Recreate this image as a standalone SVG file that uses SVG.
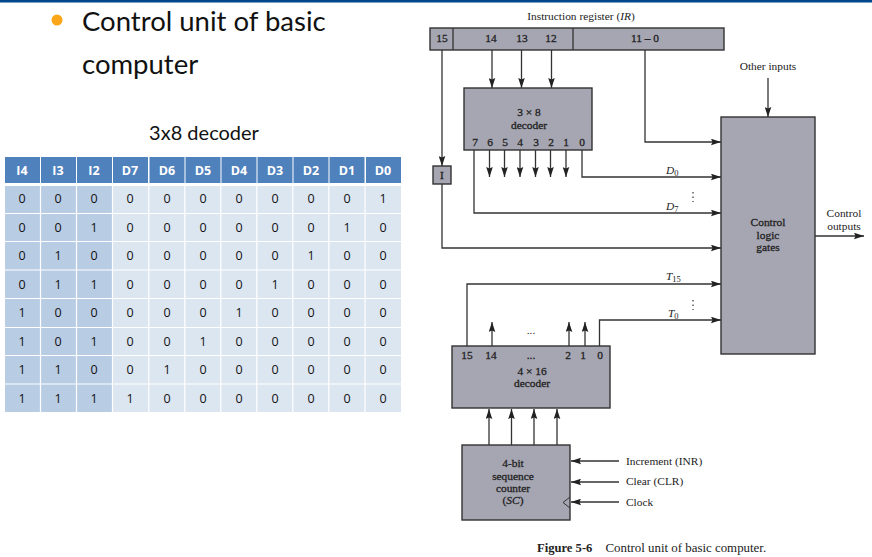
<svg xmlns="http://www.w3.org/2000/svg" width="872" height="557" viewBox="0 0 872 557">
<style>
.hc{fill:#4f81bd}.k{fill:#b8cce4}.l{fill:#dce6f1}
.tt{font-family:"Lato","Open Sans",sans-serif;fill:#111}
.t{font-family:"Open Sans",sans-serif;font-size:12.5px;fill:#111;text-anchor:middle}
.th{font-family:"Open Sans",sans-serif;font-size:12.5px;font-weight:700;fill:#fff;text-anchor:middle}
.s{font-family:"Liberation Serif",serif;font-size:11.4px;fill:#222;text-anchor:middle}
.sl{font-family:"Liberation Serif",serif;font-size:11.4px;fill:#222}
.c{font-family:"Liberation Serif",serif;fill:#222}
.b{font-family:"Liberation Serif",serif;font-size:11.4px;fill:#222;stroke:#222;stroke-width:.3;text-anchor:middle}
.box{fill:#a6a6b2;stroke:#333;stroke-width:1.4}
.w{fill:none;stroke:#333;stroke-width:1.3}
.a{fill:none;stroke:#333;stroke-width:1.3;marker-end:url(#ah)}
</style>
<defs><marker id="ah" markerUnits="userSpaceOnUse" markerWidth="11" markerHeight="7" refX="10" refY="3.500" orient="auto"><path d="M0 0.200L10 3.500L0 6.800L1.500 3.500Z" fill="#222"/></marker></defs>
<rect width="872" height="557" fill="#fff"/>
<rect width="872" height="2.5" fill="#00468b"/>
<g id="title">
<circle cx="57" cy="20" r="5.5" fill="#fca71a"/>
<text class="tt" x="82" y="31" font-size="27.5">Control unit of basic</text>
<text class="tt" x="82" y="74" font-size="27.5">computer</text>
<text class="tt" x="204" y="140" font-size="20" text-anchor="middle">3x8 decoder</text>
</g>
<g id="table">
<g class="hc"><rect x="5" y="157" width="35" height="26"/><rect x="41" y="157" width="35" height="26"/><rect x="77" y="157" width="35" height="26"/><rect x="113" y="157" width="35" height="26"/><rect x="149.500" y="157" width="35" height="26"/><rect x="185.500" y="157" width="35" height="26"/><rect x="221.500" y="157" width="35" height="26"/><rect x="257.500" y="157" width="35" height="26"/><rect x="293.500" y="157" width="35" height="26"/><rect x="329.500" y="157" width="35" height="26"/><rect x="366" y="157" width="35" height="26"/></g>
<g class="k"><rect x="5" y="186" width="107" height="226"/></g>
<g class="l"><rect x="113" y="186" width="288" height="226"/></g>
<g stroke="#fff" stroke-width="1.2"><path d="M40.500 186V412M76.500 186V412M112.500 186V412M148.800 186V412M184.800 186V412M220.800 186V412M256.800 186V412M292.800 186V412M328.800 186V412M365 186V412M5 213.500H401M5 241.500H401M5 270H401M5 298.500H401M5 327.500H401M5 355.500H401M5 384H401"/></g>
<text class="th" x="22" y="175">I4</text><text class="th" x="58" y="175">I3</text><text class="th" x="94" y="175">I2</text><text class="th" x="130" y="175">D7</text><text class="th" x="167" y="175">D6</text><text class="th" x="203" y="175">D5</text><text class="th" x="239" y="175">D4</text><text class="th" x="275" y="175">D3</text><text class="th" x="311" y="175">D2</text><text class="th" x="347" y="175">D1</text><text class="th" x="383" y="175">D0</text>
<text class="t" x="22" y="203">0</text><text class="t" x="58" y="203">0</text><text class="t" x="94" y="203">0</text><text class="t" x="130" y="203">0</text><text class="t" x="167" y="203">0</text><text class="t" x="203" y="203">0</text><text class="t" x="239" y="203">0</text><text class="t" x="275" y="203">0</text><text class="t" x="311" y="203">0</text><text class="t" x="347" y="203">0</text><text class="t" x="383" y="203">1</text>
<text class="t" x="22" y="232">0</text><text class="t" x="58" y="232">0</text><text class="t" x="94" y="232">1</text><text class="t" x="130" y="232">0</text><text class="t" x="167" y="232">0</text><text class="t" x="203" y="232">0</text><text class="t" x="239" y="232">0</text><text class="t" x="275" y="232">0</text><text class="t" x="311" y="232">0</text><text class="t" x="347" y="232">1</text><text class="t" x="383" y="232">0</text>
<text class="t" x="22" y="260">0</text><text class="t" x="58" y="260">1</text><text class="t" x="94" y="260">0</text><text class="t" x="130" y="260">0</text><text class="t" x="167" y="260">0</text><text class="t" x="203" y="260">0</text><text class="t" x="239" y="260">0</text><text class="t" x="275" y="260">0</text><text class="t" x="311" y="260">1</text><text class="t" x="347" y="260">0</text><text class="t" x="383" y="260">0</text>
<text class="t" x="22" y="289">0</text><text class="t" x="58" y="289">1</text><text class="t" x="94" y="289">1</text><text class="t" x="130" y="289">0</text><text class="t" x="167" y="289">0</text><text class="t" x="203" y="289">0</text><text class="t" x="239" y="289">0</text><text class="t" x="275" y="289">1</text><text class="t" x="311" y="289">0</text><text class="t" x="347" y="289">0</text><text class="t" x="383" y="289">0</text>
<text class="t" x="22" y="317">1</text><text class="t" x="58" y="317">0</text><text class="t" x="94" y="317">0</text><text class="t" x="130" y="317">0</text><text class="t" x="167" y="317">0</text><text class="t" x="203" y="317">0</text><text class="t" x="239" y="317">1</text><text class="t" x="275" y="317">0</text><text class="t" x="311" y="317">0</text><text class="t" x="347" y="317">0</text><text class="t" x="383" y="317">0</text>
<text class="t" x="22" y="346">1</text><text class="t" x="58" y="346">0</text><text class="t" x="94" y="346">1</text><text class="t" x="130" y="346">0</text><text class="t" x="167" y="346">0</text><text class="t" x="203" y="346">1</text><text class="t" x="239" y="346">0</text><text class="t" x="275" y="346">0</text><text class="t" x="311" y="346">0</text><text class="t" x="347" y="346">0</text><text class="t" x="383" y="346">0</text>
<text class="t" x="22" y="374">1</text><text class="t" x="58" y="374">1</text><text class="t" x="94" y="374">0</text><text class="t" x="130" y="374">0</text><text class="t" x="167" y="374">1</text><text class="t" x="203" y="374">0</text><text class="t" x="239" y="374">0</text><text class="t" x="275" y="374">0</text><text class="t" x="311" y="374">0</text><text class="t" x="347" y="374">0</text><text class="t" x="383" y="374">0</text>
<text class="t" x="22" y="403">1</text><text class="t" x="58" y="403">1</text><text class="t" x="94" y="403">1</text><text class="t" x="130" y="403">1</text><text class="t" x="167" y="403">0</text><text class="t" x="203" y="403">0</text><text class="t" x="239" y="403">0</text><text class="t" x="275" y="403">0</text><text class="t" x="311" y="403">0</text><text class="t" x="347" y="403">0</text><text class="t" x="383" y="403">0</text>
</g>
<g id="connectors">
<path class="a" d="M492 50V88"/><path class="a" d="M521.500 50V88"/><path class="a" d="M551.500 50V88"/>
<path class="a" d="M442 50V166"/>
<path class="a" d="M442 184V248H721"/>
<path class="a" d="M645 50V142H721"/>
<path class="a" d="M768 78V117"/>
<path class="a" d="M582 150V177H721"/>
<path class="a" d="M474 150V213H721"/>
<path class="a" d="M489.500 150V177"/><path class="a" d="M504.500 150V177"/><path class="a" d="M520 150V177"/><path class="a" d="M535.500 150V177"/><path class="a" d="M550.500 150V177"/><path class="a" d="M566 150V177"/>
<path class="a" d="M467 346V284H721"/>
<path class="a" d="M599.500 346V320H721"/>
<path class="a" d="M492 346V322"/><path class="a" d="M569 346V322"/><path class="a" d="M585 346V322"/>
<path class="a" d="M489 445V409"/><path class="a" d="M511.500 445V409"/><path class="a" d="M534 445V409"/><path class="a" d="M557 445V409"/>
<path class="a" d="M619 461H571"/><path class="a" d="M619 482H571"/><path class="a" d="M619 502H571"/>
<path class="a" d="M815 236H864"/>
<path fill="none" stroke="#333" stroke-width="1.2" stroke-dasharray="1.5 3" d="M693 192V202M693 300V310"/>
</g>
<g id="instruction-register">
<rect class="box" x="430" y="28" width="294" height="22"/>
<path class="w" d="M453 28V50M573 28V50"/>
<text class="s" x="581" y="20">Instruction register (<tspan font-style="italic">IR</tspan>)</text>
<text class="b" x="442" y="42">15</text><text class="b" x="491" y="42">14</text><text class="b" x="522" y="42">13</text><text class="b" x="551" y="42">12</text><text class="b" x="645" y="42">11 – 0</text>
</g>
<g id="decoder-3x8">
<rect class="box" x="464" y="88" width="128" height="62"/>
<text class="b" x="529" y="116">3 × 8</text><text class="b" x="529" y="129">decoder</text>
<text class="b" x="475" y="146">7</text><text class="b" x="490" y="146">6</text><text class="b" x="505" y="146">5</text><text class="b" x="520" y="146">4</text><text class="b" x="536" y="146">3</text><text class="b" x="551" y="146">2</text><text class="b" x="566" y="146">1</text><text class="b" x="582" y="146">0</text>
</g>
<g id="flipflop-i">
<rect class="box" x="433" y="166" width="18" height="18"/>
<text class="b" x="442" y="179">I</text>
</g>
<g id="control-logic">
<rect class="box" x="721" y="117" width="94" height="237"/>
<text class="b" x="768" y="226">Control</text><text class="b" x="768" y="239">logic</text><text class="b" x="768" y="251">gates</text>
</g>
<g id="labels">
<text class="s" x="768" y="70">Other inputs</text>
<text class="s" x="844" y="217">Control</text><text class="s" x="844" y="230">outputs</text>
<text class="sl" x="666" y="174" font-style="italic">D<tspan font-size="8.500" font-style="normal" dy="2">0</tspan></text>
<text class="sl" x="666" y="210" font-style="italic">D<tspan font-size="8.500" font-style="normal" dy="2">7</tspan></text>
<text class="sl" x="666" y="280" font-style="italic">T<tspan font-size="8.500" font-style="normal" dy="2">15</tspan></text>
<text class="sl" x="668" y="317" font-style="italic">T<tspan font-size="8.500" font-style="normal" dy="2">0</tspan></text>
<text class="s" x="531" y="334">...</text>
<text class="sl" x="626" y="465">Increment (INR)</text>
<text class="sl" x="626" y="485">Clear (CLR)</text>
<text class="sl" x="626" y="506">Clock</text>
<text class="c" x="537" y="552" font-size="12.900"><tspan font-weight="700" font-size="12.600">Figure 5-6</tspan><tspan dx="13">Control unit of basic computer.</tspan></text>
</g>
<g id="decoder-4x16">
<rect class="box" x="452" y="346" width="158" height="62"/>
<text class="b" x="467" y="359">15</text><text class="b" x="491" y="359">14</text><text class="b" x="531" y="359">...</text><text class="b" x="568" y="359">2</text><text class="b" x="583" y="359">1</text><text class="b" x="600" y="359">0</text>
<text class="b" x="532" y="375">4 × 16</text><text class="b" x="532" y="387">decoder</text>
</g>
<g id="sequence-counter">
<rect class="box" x="462" y="445" width="108" height="75"/>
<text class="b" x="513" y="467">4-bit</text><text class="b" x="513" y="480">sequence</text><text class="b" x="513" y="492">counter</text><text class="b" x="513" y="504" font-style="italic"><tspan font-style="normal">(</tspan>SC<tspan font-style="normal">)</tspan></text>
<path d="M570 497L563 502.500L570 508" fill="none" stroke="#333" stroke-width="1"/>
</g>
</svg>
